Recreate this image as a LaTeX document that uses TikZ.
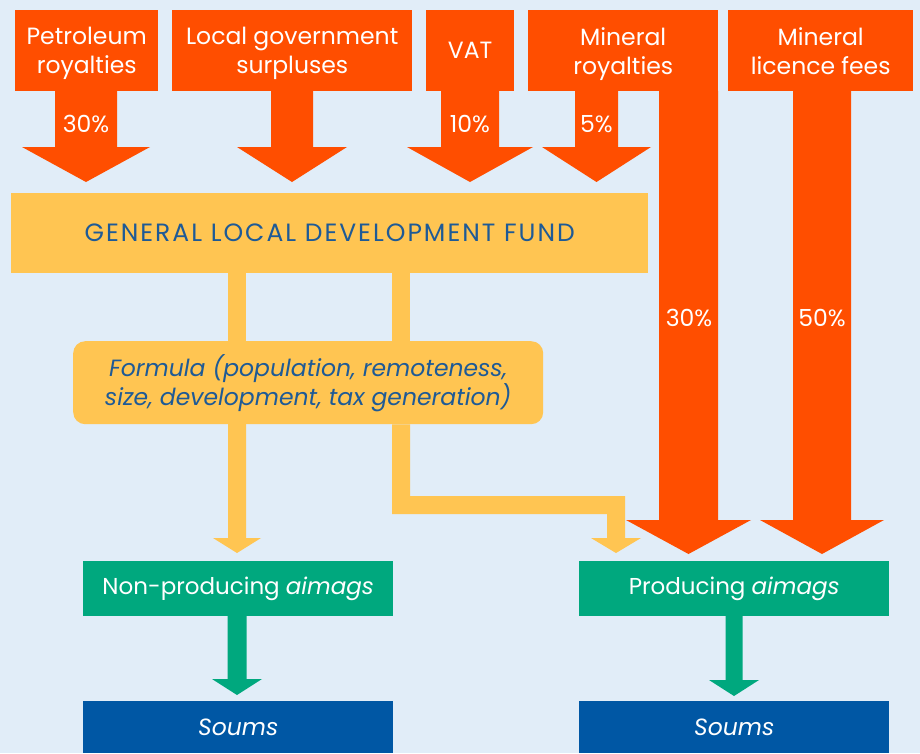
\documentclass[tikz,border=0pt]{standalone}
\usepackage{fontspec}
\setmainfont{Poppins}
\usetikzlibrary{calc}
\definecolor{bg}{HTML}{E1EDF8}
\definecolor{org}{HTML}{FF4E00}
\definecolor{yel}{HTML}{FFC552}
\definecolor{grn}{HTML}{00A87E}
\definecolor{blu}{HTML}{0057A4}
\definecolor{txtblue}{HTML}{1E5A96}
% block arrow: style, start, tip, shaft half width, head half width, head length
\newcommand\blockarrow[6]{%
  \fill[#1] let \p1=#2, \p2=#3 in
    (\x1-#4pt,\y1+0.5pt) -- (\x1+#4pt,\y1+0.5pt) -- (\x1+#4pt,\y2+#6pt) --
    (\x1+#5pt,\y2+#6pt) -- (\x1,\y2) -- (\x1-#5pt,\y2+#6pt) --
    (\x1-#4pt,\y2+#6pt) -- cycle;}
\begin{document}
\begin{tikzpicture}[x=1pt,y=-1pt,
  box/.style={anchor=north west, inner sep=0pt, align=center,
    font=\fontsize{23.5}{29}\selectfont},
  srcbox/.style={box, fill=org, text=white, text depth=0pt},
  pct/.style={inner sep=0pt, text=white, font=\fontsize{23.5}{25}\selectfont},
  fundbox/.style={box, fill=yel, text=txtblue},
  aimbox/.style={box, fill=grn, text=white, font=\fontsize{23}{25}\selectfont},
  soumbox/.style={box, fill=blu, text=white, font=\fontsize{23.5}{25}\selectfont\itshape}]
\fill[bg] (0,0) rectangle (920,753);
\useasboundingbox (0,0) rectangle (920,753);

% source boxes
\node[srcbox, minimum width=143pt, minimum height=81pt] (pet) at (15,10) {Petroleum\\royalties};
\node[srcbox, minimum width=240pt, minimum height=81pt] (lgs) at (172,10) {Local government\\surpluses};
\node[srcbox, minimum width=88pt, minimum height=81pt] (vat) at (426,10) {VAT};
\node[srcbox, minimum width=190pt, minimum height=81pt] (mro) at (528,10) {Mineral\\royalties};
\node[srcbox, minimum width=185pt, minimum height=81pt] (mlf) at (728,10) {Mineral\\licence fees};

% fund and formula
\node[fundbox, minimum width=637pt, minimum height=80pt,
  font=\fontsize{25}{29}\selectfont\addfontfeature{LetterSpace=8}] (gldf) at (11,193)
  {GENERAL LOCAL DEVELOPMENT FUND};
\node[fundbox, minimum width=470pt, minimum height=83pt, rounded corners=12pt,
  font=\fontsize{23.5}{29}\selectfont\itshape] (form) at (73,341)
  {Formula (population, remoteness,\\size, development, tax generation)};

% recipients
\node[aimbox, minimum width=310pt, minimum height=55pt] (npa) at (83,561) {Non-producing \textit{aimags}};
\node[aimbox, minimum width=310pt, minimum height=55pt] (pa) at (579,561) {Producing \textit{aimags}};
\node[soumbox, minimum width=310pt, minimum height=52pt] (s1) at (83,701) {Soums};
\node[soumbox, minimum width=310pt, minimum height=52pt] (s2) at (579,701) {Soums};

% arrow tips
\coordinate (t1) at (86,182);
\coordinate (t2) at (292,182);
\coordinate (t3) at (470,182);
\coordinate (t4) at (596.5,182);
\coordinate (t5) at (688.5,554);
\coordinate (t6) at (822,554);
\coordinate (ty1) at (237,553);
\coordinate (tg1) at (237,695);
\coordinate (tg2) at (734,696);

% yellow links
\fill[yel] (228,0 |- gldf.south) rectangle (246,0 |- form.north);
\fill[yel] (392,0 |- gldf.south) rectangle (410,0 |- form.north);
\blockarrow{yel}{(237,0 |- form.south)}{(ty1)}{9}{24}{15}
\fill[yel] (392,0 |- form.south) -- (410,0 |- form.south) -- (410,496) -- (625,496)
  -- (625,538) -- (641,538) -- (616,553) -- (591,538) -- (607,538) -- (607,514)
  -- (392,514) -- cycle;

% orange arrows
\blockarrow{org}{(86,0 |- pet.south)}{(t1)}{31}{64}{35}
\blockarrow{org}{(292,0 |- lgs.south)}{(t2)}{21}{55}{35}
\blockarrow{org}{(470,0 |- vat.south)}{(t3)}{29}{63}{35}
\blockarrow{org}{(596.5,0 |- mro.south)}{(t4)}{21.5}{54.5}{35}
\blockarrow{org}{(688.5,0 |- mro.south)}{(t5)}{29.5}{62.5}{34}
\blockarrow{org}{(822,0 |- mlf.south)}{(t6)}{29}{62}{34}

% green arrows
\blockarrow{grn}{(237,0 |- npa.south)}{(tg1)}{9.5}{25}{16}
\blockarrow{grn}{(734,0 |- pa.south)}{(tg2)}{8.5}{25}{16}

% percentages
\node[pct] (p1) at (86,124) {30\%};
\node[pct] (p3) at (470,124) {10\%};
\node[pct] (p4) at (596.5,124) {5\%};
\node[pct] (p5) at (689,318) {30\%};
\node[pct] (p6) at (822,318) {50\%};
\end{tikzpicture}
\end{document}
